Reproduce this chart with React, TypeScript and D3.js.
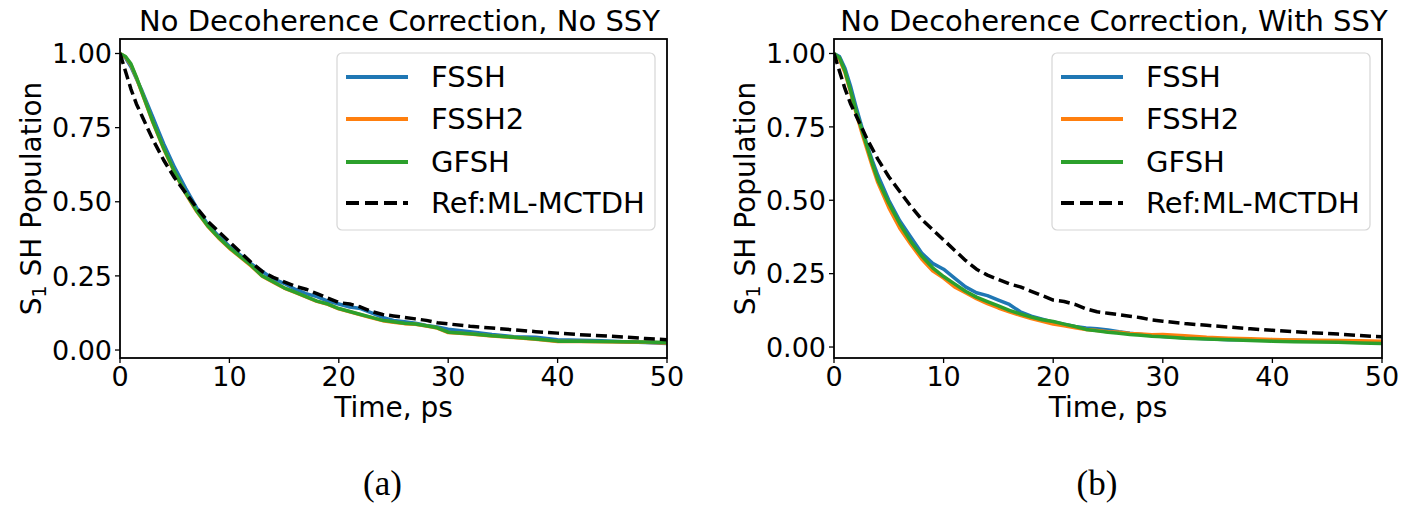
import * as d3 from 'd3'

// time grid (ps) shared by every curve
const time = [0, 0.5, 1, 1.5, 2, 2.5, 3, 3.5, 4, 5, 6, 7, 8, 9, 10, 11, 12, 13, 14, 15, 16, 17, 18, 19, 20, 21, 22, 23, 24, 25, 26, 27, 28, 29, 30, 32, 34, 36, 38, 40, 42, 44, 46, 48, 50]

// reference ML-MCTDH population (same in both panels)
const refMCTDH = [1.0, 0.94, 0.88, 0.83, 0.79, 0.75, 0.71, 0.675, 0.64, 0.58, 0.53, 0.48, 0.435, 0.4, 0.365, 0.33, 0.295, 0.265, 0.245, 0.23, 0.215, 0.205, 0.19, 0.175, 0.16, 0.155, 0.145, 0.13, 0.12, 0.115, 0.11, 0.105, 0.1, 0.092, 0.088, 0.08, 0.074, 0.068, 0.062, 0.057, 0.052, 0.048, 0.044, 0.039, 0.035]

// (a) no decoherence correction, no SSY
const noSsyFSSH = [1.0, 0.985, 0.955, 0.915, 0.875, 0.83, 0.785, 0.74, 0.695, 0.615, 0.545, 0.48, 0.425, 0.385, 0.35, 0.32, 0.29, 0.265, 0.24, 0.225, 0.205, 0.19, 0.18, 0.165, 0.155, 0.145, 0.14, 0.125, 0.11, 0.1, 0.095, 0.09, 0.083, 0.078, 0.07, 0.062, 0.052, 0.045, 0.043, 0.035, 0.033, 0.031, 0.028, 0.025, 0.022]
const noSsyFSSH2 = [1.0, 0.988, 0.962, 0.918, 0.868, 0.818, 0.768, 0.723, 0.678, 0.598, 0.528, 0.468, 0.418, 0.378, 0.343, 0.313, 0.283, 0.249, 0.229, 0.209, 0.194, 0.179, 0.164, 0.154, 0.139, 0.129, 0.119, 0.109, 0.099, 0.094, 0.089, 0.087, 0.081, 0.074, 0.059, 0.054, 0.047, 0.042, 0.036, 0.029, 0.029, 0.028, 0.027, 0.026, 0.024]
const noSsyGFSH = [1.0, 0.99, 0.965, 0.92, 0.87, 0.82, 0.77, 0.725, 0.68, 0.6, 0.53, 0.47, 0.42, 0.38, 0.345, 0.315, 0.285, 0.25, 0.23, 0.21, 0.195, 0.18, 0.165, 0.155, 0.14, 0.13, 0.12, 0.11, 0.1, 0.095, 0.09, 0.088, 0.082, 0.075, 0.06, 0.055, 0.048, 0.043, 0.037, 0.03, 0.03, 0.029, 0.028, 0.027, 0.025]

// (b) no decoherence correction, with SSY
const ssyFSSH = [1.0, 0.99, 0.95, 0.89, 0.82, 0.755, 0.69, 0.635, 0.585, 0.5, 0.43, 0.375, 0.32, 0.285, 0.265, 0.235, 0.205, 0.185, 0.175, 0.16, 0.145, 0.12, 0.105, 0.095, 0.085, 0.078, 0.07, 0.065, 0.062, 0.058, 0.052, 0.047, 0.043, 0.039, 0.036, 0.032, 0.028, 0.025, 0.026, 0.022, 0.023, 0.021, 0.018, 0.017, 0.016]
const ssyFSSH2 = [1.0, 0.98, 0.935, 0.87, 0.8, 0.735, 0.675, 0.615, 0.56, 0.475, 0.405, 0.35, 0.3, 0.26, 0.235, 0.205, 0.185, 0.165, 0.148, 0.133, 0.12, 0.108, 0.097, 0.088, 0.078, 0.072, 0.066, 0.06, 0.056, 0.052, 0.05, 0.046, 0.044, 0.042, 0.043, 0.038, 0.033, 0.03, 0.028, 0.026, 0.024, 0.023, 0.022, 0.021, 0.02]
const ssyGFSH = [1.0, 0.985, 0.94, 0.875, 0.805, 0.745, 0.685, 0.625, 0.57, 0.49, 0.42, 0.36, 0.31, 0.27, 0.24, 0.215, 0.19, 0.17, 0.155, 0.14, 0.125, 0.113, 0.102, 0.093, 0.087, 0.078, 0.07, 0.06, 0.055, 0.05, 0.047, 0.043, 0.04, 0.037, 0.035, 0.03, 0.027, 0.025, 0.022, 0.02, 0.018, 0.017, 0.016, 0.014, 0.012]

const seriesNames = ['FSSH', 'FSSH2', 'GFSH', 'Ref:ML-MCTDH']
const seriesColors = ['#1f77b4', '#ff7f0e', '#2ca02c', '#000000']
const xTicks = [0, 10, 20, 30, 40, 50]
const yTicks = [0, 0.25, 0.5, 0.75, 1]

const FONT = '"DejaVu Sans", sans-serif'

type PanelProps = {
  x0: number
  x1: number
  title: string
  tag: string
  data: number[][]
}

function Panel({ x0, x1, title, tag, data }: PanelProps) {
  const top = 39
  const bottom = 358
  const xScale = d3.scaleLinear().domain([0, 50]).range([x0, x1])

  // matplotlib-like 5% margin on the y data range
  const all = data.flat()
  const [lo, hi] = d3.extent(all) as [number, number]
  const pad = (hi - lo) * 0.05
  const yScale = d3.scaleLinear().domain([lo - pad, hi + pad]).range([bottom, top])

  const line = d3.line<number>()
    .x((_, i) => xScale(time[i]))
    .y(d => yScale(d))

  const cx = (x0 + x1) / 2
  const legX = x1 - 330
  const legY = top + 14
  const rowY = [24, 66, 109, 150]

  return (
    <g>
      <text x={cx + 6} y={31} textAnchor="middle" fontSize={29} fontFamily={FONT}>{title}</text>

      <clipPath id={'clip' + tag}>
        <rect x={x0} y={top} width={x1 - x0} height={bottom - top} />
      </clipPath>
      <g clipPath={`url(#clip${tag})`}>
        {data.map((vals, i) => (
          <path key={i} d={line(vals) || ''} fill="none" stroke={seriesColors[i]}
            strokeWidth={3.5} strokeLinejoin="round"
            strokeDasharray={i === 3 ? '11,5' : undefined} />
        ))}
      </g>

      {/* x axis */}
      {xTicks.map(t => (
        <g key={t}>
          <line x1={xScale(t)} x2={xScale(t)} y1={bottom} y2={bottom + 5} stroke="#000" strokeWidth={1.3} />
          <text x={xScale(t)} y={386} textAnchor="middle" fontSize={27} fontFamily={FONT}>{d3.format('d')(t)}</text>
        </g>
      ))}
      {/* y axis */}
      {yTicks.map(t => (
        <g key={t}>
          <line x1={x0 - 5} x2={x0} y1={yScale(t)} y2={yScale(t)} stroke="#000" strokeWidth={1.3} />
          <text x={x0 - 8} y={yScale(t)} dy="0.36em" textAnchor="end" fontSize={27} fontFamily={FONT}>{d3.format('.2f')(t)}</text>
        </g>
      ))}
      <rect x={x0} y={top} width={x1 - x0} height={bottom - top} fill="none" stroke="#000" strokeWidth={1.8} />

      <text x={cx} y={417} textAnchor="middle" fontSize={28} fontFamily={FONT}>Time, ps</text>
      <text transform={`translate(${x0 - 79},${(top + bottom) / 2}) rotate(-90)`} textAnchor="middle" fontSize={28} fontFamily={FONT}>
        S<tspan fontSize={19} dy={5}>1</tspan><tspan dy={-5}> SH Population</tspan>
      </text>

      {/* legend */}
      <rect x={legX} y={legY} width={318} height={177} rx={5} fill="#fff" fillOpacity={0.8} stroke="#d6d6d6" strokeWidth={1.2} />
      {seriesNames.map((name, i) => (
        <g key={name}>
          <line x1={legX + 9} x2={legX + 71} y1={legY + rowY[i]} y2={legY + rowY[i]} stroke={seriesColors[i]}
            strokeWidth={4} strokeDasharray={i === 3 ? '13,6' : undefined} />
          <text x={legX + 94} y={legY + rowY[i] + 10} fontSize={29} fontFamily={FONT}>{name}</text>
        </g>
      ))}

      <text x={cx - 11} y={495} textAnchor="middle" fontSize={35} fontFamily='"Liberation Serif", serif'>({tag})</text>
    </g>
  )
}

export default function App() {
  return (
    <svg width={1405} height={509} style={{ position: 'absolute', left: 0, top: 0, background: '#fff' }}>
      <Panel x0={120} x1={667} title="No Decoherence Correction, No SSY" tag="a"
        data={[noSsyFSSH, noSsyFSSH2, noSsyGFSH, refMCTDH]} />
      <Panel x0={834} x1={1382} title="No Decoherence Correction, With SSY" tag="b"
        data={[ssyFSSH, ssyFSSH2, ssyGFSH, refMCTDH]} />
    </svg>
  )
}
